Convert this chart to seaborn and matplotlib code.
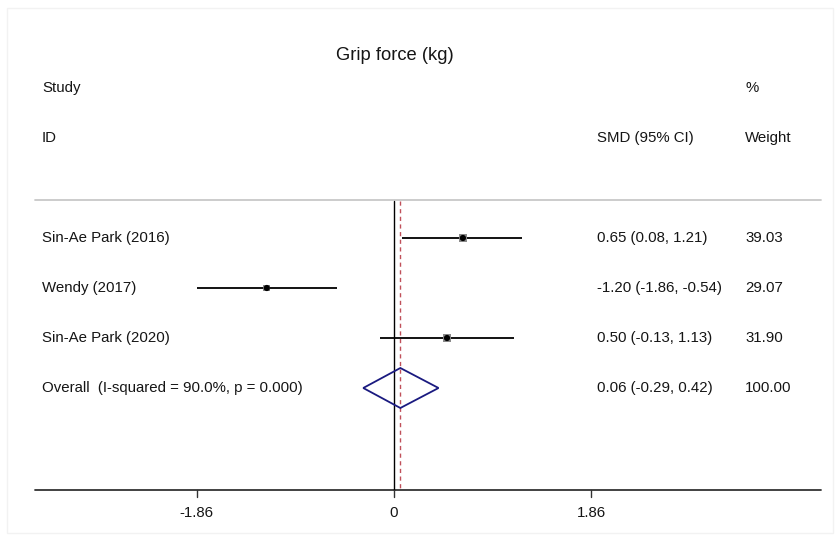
import matplotlib
matplotlib.use("Agg")
import matplotlib.pyplot as plt
import seaborn as sns
import pandas as pd
from matplotlib.patches import Polygon, Rectangle

studies = ["Sin-Ae Park (2016)", "Wendy (2017)", "Sin-Ae Park (2020)"]
smd = [0.65, -1.20, 0.50]
lower = [0.08, -1.86, -0.13]
upper = [1.21, -0.54, 1.13]
weights = [39.03, 29.07, 31.90]
overall_label = "Overall  (I-squared = 90.0%, p = 0.000)"
overall = [0.06, -0.29, 0.42]
overall_weight = 100.00
xticks = [-1.86, 0, 1.86]
xticklabels = ["-1.86", "0", "1.86"]

df = pd.DataFrame({"study": studies, "smd": smd, "lo": lower, "hi": upper,
                   "w": weights, "row": range(len(studies))})

sns.set_style("white")
plt.rcParams["font.family"] = ["Liberation Sans", "DejaVu Sans"]
plt.rcParams["text.color"] = "#151515"

fig = plt.figure(figsize=(8.4, 5.41), dpi=100)
ax = fig.add_axes([0, 0, 1, 1])
ax.set_axis_off()

PX = 106.0
x0 = 394.0
ax.set_xlim((0 - x0) / PX, (840 - x0) / PX)
ax.set_ylim((541 - 238) / 50.0, (0 - 238) / 50.0)

def px2x(p):
    return (p - x0) / PX

def py2y(p):
    return (p - 238) / 50.0

# faint outer frame
fig.patches.append(Rectangle((7 / 840, 1 - 533 / 541), 826 / 840, 525 / 541,
                             transform=fig.transFigure, fill=False,
                             edgecolor="#f2f2f2", lw=1))

# header line and axis line
ax.plot([px2x(35), px2x(821)], [py2y(200)] * 2, color="#c8c8c8", lw=1.3)
ax.plot([px2x(35), px2x(821)], [py2y(490)] * 2, color="#333333", lw=1.3)

# null line and overall dashed line
ax.plot([0, 0], [py2y(201), py2y(490)], color="black", lw=1.0)
ax.plot([overall[0]] * 2, [py2y(201), py2y(490)], color="#c0505a", lw=1.0,
        ls=(0, (3, 2.5)))

fs = 10.8

# ticks
for t, lab in zip(xticks, xticklabels):
    ax.plot([t, t], [py2y(490), py2y(497)], color="#333333", lw=1.0)
    ax.text(t, py2y(513), lab, ha="center", va="center", fontsize=fs)

# CI lines
ax.hlines(df["row"], df["lo"], df["hi"], color="black", lw=1.3)
# weight boxes
sns.scatterplot(data=df, x="smd", y="row", marker="s", color="#8a8a8a",
                s=[w * 0.8 for w in weights], edgecolor="none", ax=ax,
                legend=False, zorder=3)
sns.scatterplot(data=df, x="smd", y="row", marker="o", color="black",
                s=20, edgecolor="none", ax=ax, legend=False, zorder=4)

# overall diamond
yr = len(studies)
dia = Polygon([[overall[1], yr], [overall[0], yr - 0.4], [overall[2], yr],
               [overall[0], yr + 0.4]], closed=True, fill=False,
              edgecolor="#1a1a80", lw=1.3, zorder=5)
ax.add_patch(dia)

# texts
ax.text(px2x(395), py2y(55), "Grip force (kg)", ha="center", va="center", fontsize=13.2)
ax.text(px2x(42), py2y(88), "Study", ha="left", va="center", fontsize=fs)
ax.text(px2x(42), py2y(138), "ID", ha="left", va="center", fontsize=fs)
ax.text(px2x(597), py2y(138), "SMD (95% CI)", ha="left", va="center", fontsize=fs)
ax.text(px2x(745), py2y(88), "%", ha="left", va="center", fontsize=fs)
ax.text(px2x(745), py2y(138), "Weight", ha="left", va="center", fontsize=fs)

for i in range(len(studies)):
    ax.text(px2x(42), i, studies[i], ha="left", va="center", fontsize=fs)
    ax.text(px2x(597), i, f"{smd[i]:.2f} ({lower[i]:.2f}, {upper[i]:.2f})",
            ha="left", va="center", fontsize=fs)
    ax.text(px2x(745), i, f"{weights[i]:.2f}", ha="left", va="center", fontsize=fs)

ax.text(px2x(42), yr, overall_label, ha="left", va="center", fontsize=fs)
ax.text(px2x(597), yr, f"{overall[0]:.2f} ({overall[1]:.2f}, {overall[2]:.2f})",
        ha="left", va="center", fontsize=fs)
ax.text(px2x(745), yr, f"{overall_weight:.2f}", ha="left", va="center", fontsize=fs)

fig.savefig("out.png", dpi=100)
